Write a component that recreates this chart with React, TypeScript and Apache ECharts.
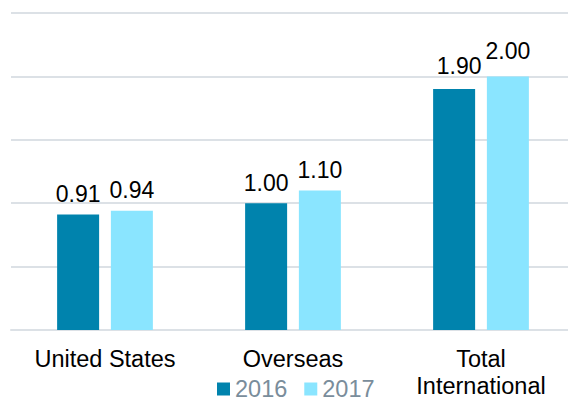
import React, { useEffect, useRef } from "react";
import * as echarts from "echarts";

const categories = ["United States", "Overseas", "Total\nInternational"];
const values2016 = [0.91, 1.0, 1.9];
const values2017 = [0.94, 1.1, 2.0];
const seriesNames = ["2016", "2017"];
// per-point nudges of the value labels [dx, dy], so the two top labels don't collide
const labelOffsets2016 = [[0, 0], [0, 0], [5, -3]];
const labelOffsets2017 = [[0, 0], [0, 0], [0, -5]];

const FONT = "'Liberation Sans', Arial, sans-serif";
const DARK = "#0083ad";
const LIGHT = "#8ae5ff";
const GRID_LINE = "#dce1e6";

export default function App() {
  const ref = useRef<HTMLDivElement>(null);

  useEffect(() => {
    if (!ref.current) return;
    const chart = echarts.init(ref.current, null, { renderer: "svg" });
    const label = {
      show: true,
      position: "top" as const,
      distance: 9,
      color: "#000",
      fontSize: 23,
      fontFamily: FONT,
      formatter: (p: any) => Number(p.value).toFixed(2),
    };
    const withOffsets = (vals: number[], offs: number[][]) =>
      vals.map((v, i) => ({ value: v, label: { offset: offs[i] } }));

    chart.setOption({
      animation: false,
      // the plot area runs 7px past the visible right edge (clipped by the wrapper)
      grid: { left: 11, right: 0, top: 13, bottom: 68, containLabel: false },
      legend: {
        left: 212,
        top: 372,
        itemWidth: 13,
        itemHeight: 13,
        itemGap: 17,
        icon: "rect",
        textStyle: { color: "#7a8d9b", fontSize: 23.5, fontFamily: FONT },
        data: seriesNames,
      },
      xAxis: {
        type: "category",
        data: categories,
        axisTick: { show: false },
        axisLine: { lineStyle: { color: GRID_LINE, width: 2 } },
        axisLabel: {
          color: "#000",
          fontSize: 23.5,
          fontFamily: FONT,
          margin: 15,
          lineHeight: 27,
          interval: 0,
        },
      },
      yAxis: {
        type: "value",
        min: 0,
        max: 2.5,
        interval: 0.5,
        axisLabel: { show: false },
        axisLine: { show: false },
        axisTick: { show: false },
        splitLine: { lineStyle: { color: GRID_LINE, width: 2 } },
      },
      series: [
        {
          name: seriesNames[0],
          type: "bar",
          data: withOffsets(values2016, labelOffsets2016),
          barWidth: 42,
          barGap: "28%",
          itemStyle: { color: DARK },
          label,
        },
        {
          name: seriesNames[1],
          type: "bar",
          data: withOffsets(values2017, labelOffsets2017),
          barWidth: 42,
          itemStyle: { color: LIGHT },
          label,
        },
      ],
    });
    return () => chart.dispose();
  }, []);

  return (
    <div
      style={{
        position: "absolute",
        left: 0,
        top: 0,
        width: 568,
        height: 399,
        overflow: "hidden",
      }}
    >
      <div ref={ref} style={{ width: 575, height: 399 }} />
    </div>
  );
}
